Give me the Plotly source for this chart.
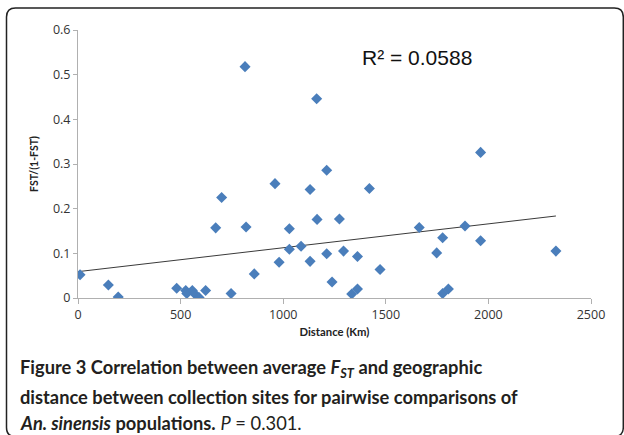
import numpy as np
import plotly.graph_objects as go

distance_km = [10, 148, 196, 481, 525, 530, 557, 567, 590, 622, 671, 700, 746, 814, 819, 859,
               960, 980, 1030, 1030, 1087, 1131, 1131, 1163, 1165, 1212, 1212, 1238, 1274, 1294,
               1334, 1362, 1362, 1420, 1472, 1663, 1748, 1777, 1777, 1805, 1886, 1962, 1962, 2329]
fst_ratio = [0.052, 0.029, 0.002, 0.022, 0.017, 0.010, 0.017, 0.010, 0.001, 0.017, 0.157, 0.225,
             0.010, 0.518, 0.159, 0.054, 0.256, 0.080, 0.155, 0.109, 0.116, 0.243, 0.082, 0.446,
             0.176, 0.286, 0.099, 0.036, 0.177, 0.105, 0.009, 0.020, 0.093, 0.245, 0.064, 0.158,
             0.101, 0.135, 0.010, 0.020, 0.161, 0.326, 0.128, 0.105]
x_ticks = [0, 500, 1000, 1500, 2000, 2500]
y_ticks = [0, 0.1, 0.2, 0.3, 0.4, 0.5, 0.6]
y_tick_labels = ["0", "0.1", "0.2", "0.3", "0.4", "0.5", "0.6"]
trend_x = [0, 2329]
trend_intercept = 0.059
trend_slope = 0.0000535
r2_label = "R² = 0.0588"

W, H = 624, 435
ML, MR, MT, MB = 78, 33, 30, 137.3
PW, PH = W - ML - MR, H - MT - MB

def px(x):
    return (x - ML) / PW

def py(y):
    return (H - MB - y) / PH

fig = go.Figure()
fig.add_trace(go.Scatter(
    x=trend_x, y=[trend_intercept + trend_slope * v for v in trend_x],
    mode="lines", line=dict(color="#3a3a3a", width=1), hoverinfo="skip", showlegend=False))
fig.add_trace(go.Scatter(
    x=distance_km, y=fst_ratio, mode="markers",
    marker=dict(symbol="diamond", size=8.5, color="#4a7ebb"), showlegend=False))

tick_font = dict(family="Open Sans, Lato, sans-serif", size=12.5, color="#333")
fig.update_xaxes(range=[0, 2500], tickvals=x_ticks, showline=True, linecolor="#b0b0b0",
                 linewidth=1, ticks="outside", ticklen=5, tickcolor="#b0b0b0",
                 showgrid=False, zeroline=False, tickfont=tick_font,
                 title=dict(text="<b>Distance (Km)</b>", font=dict(family="Lato, sans-serif", size=11.3, color="#222"), standoff=6))
fig.update_yaxes(range=[0, 0.6], tickvals=y_ticks, ticktext=y_tick_labels, showline=True,
                 linecolor="#b0b0b0", linewidth=1, ticks="outside", ticklen=4, tickcolor="#b0b0b0",
                 showgrid=False, zeroline=False, tickfont=tick_font,
                 title=dict(text="<b>FST/(1-FST)</b>", font=dict(family="Lato, sans-serif", size=10.5, color="#222"), standoff=12))

r = 9
x0, x1, y0, y1 = 6.5, 623.3, 8, 436
path = (f"M {px(x0)},{py(y0 + r)} Q {px(x0)},{py(y0)} {px(x0 + r)},{py(y0)} "
        f"L {px(x1 - r)},{py(y0)} Q {px(x1)},{py(y0)} {px(x1)},{py(y0 + r)} "
        f"L {px(x1)},{py(y1 - r)} Q {px(x1)},{py(y1)} {px(x1 - r)},{py(y1)} "
        f"L {px(x0 + r)},{py(y1)} Q {px(x0)},{py(y1)} {px(x0)},{py(y1 - r)} Z")
fig.add_shape(type="path", path=path, xref="paper", yref="paper",
              line=dict(color="#222", width=1.5), fillcolor="rgba(0,0,0,0)")

fig.add_annotation(x=px(360), y=py(57), xref="paper", yref="paper", xanchor="left", yanchor="middle",
                   text=r2_label, showarrow=False,
                   font=dict(family="Liberation Sans, Arial, sans-serif", size=21, color="#111"))

cap_font = dict(family="Lato, Open Sans, sans-serif", size=18.3, color="#231f20")
caption_lines = [
    "<b>Figure 3 Correlation between average <i>F</i><sub><i>ST</i></sub> and geographic</b>",
    "<b>distance between collection sites for pairwise comparisons of</b>",
    "<b><i>An. sinensis</i> populations.</b> <i>P</i> = 0.301.",
]
caption_y = [368, 397, 423]
for t, yy in zip(caption_lines, caption_y):
    fig.add_annotation(x=px(18), y=py(yy), xref="paper", yref="paper", xanchor="left",
                       yanchor="middle", text=t, showarrow=False, font=cap_font)

fig.update_layout(width=W, height=H, margin=dict(l=ML, r=MR, t=MT, b=MB),
                  plot_bgcolor="white", paper_bgcolor="white")
fig.write_html("out.html", config={"displayModeBar": False},
               post_script="document.body.style.margin='0';document.body.style.overflow='hidden';")
